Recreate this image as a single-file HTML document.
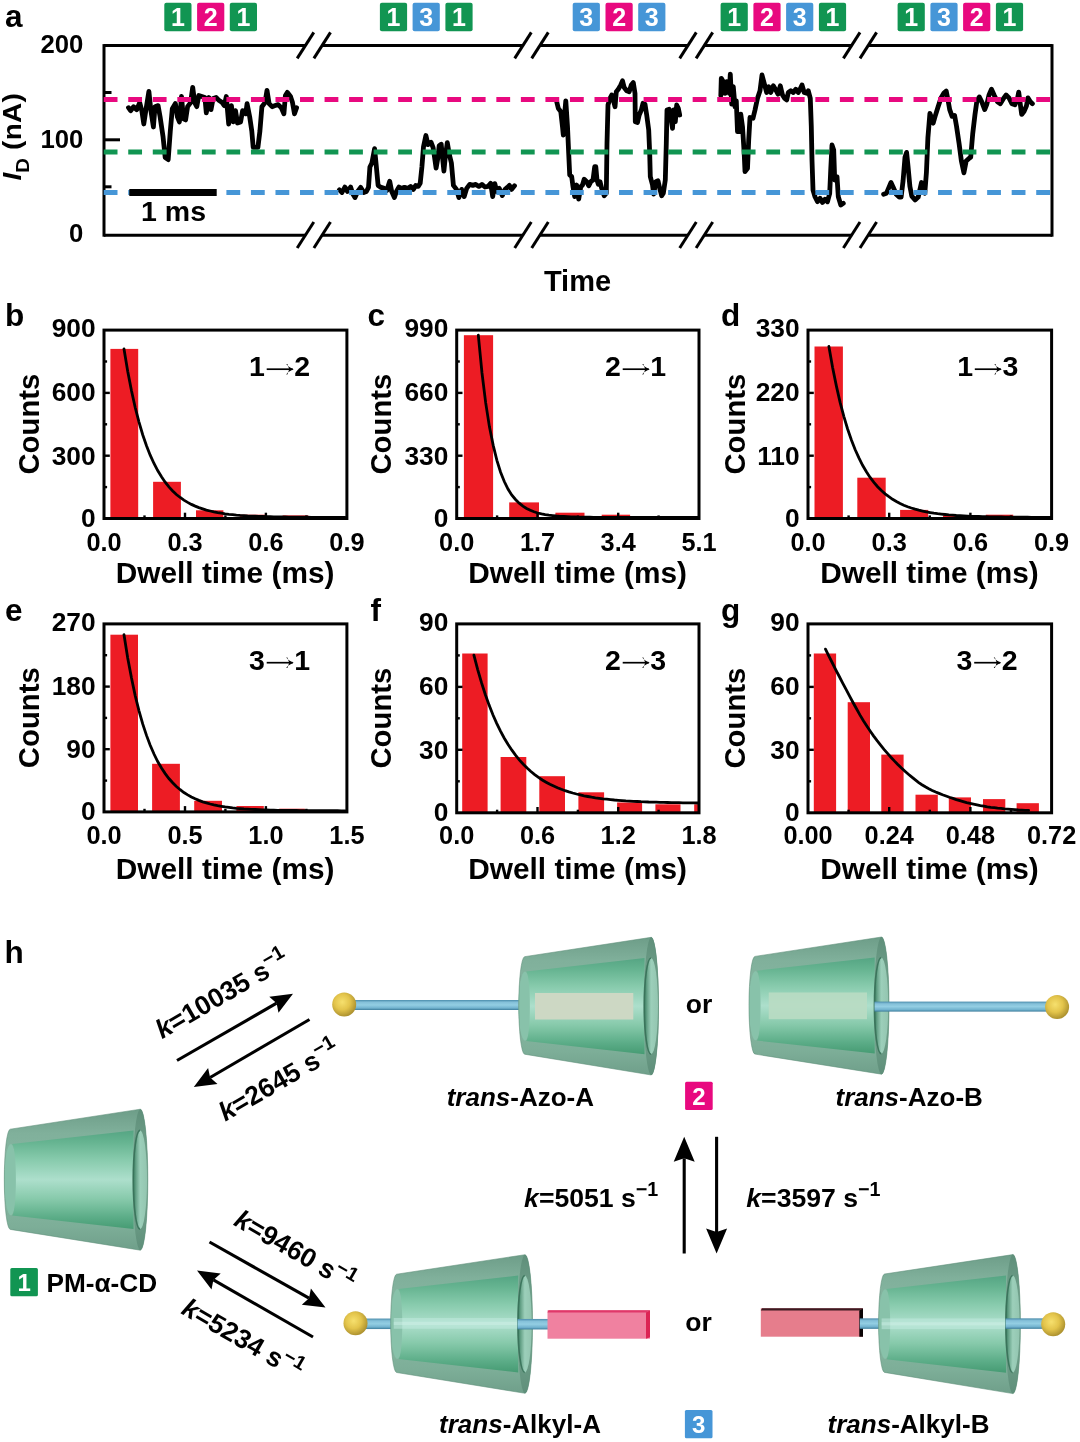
<!DOCTYPE html>
<html lang="en"><head><meta charset="utf-8"><title>Figure</title>
<style>
html,body{margin:0;padding:0;background:#fff;}
body{width:1080px;height:1442px;overflow:hidden;font-family:"Liberation Sans",sans-serif;}
svg{display:block;filter:blur(0.45px);}
svg text{font-family:"Liberation Sans",sans-serif;}
</style></head><body>
<svg width="1080" height="1442" viewBox="0 0 1080 1442">
<rect width="1080" height="1442" fill="#fff"/>
<g id="panel-a">
<line x1="104" y1="45.6" x2="305.5" y2="45.6" stroke="#000" stroke-width="3"/>
<line x1="322.2" y1="45.6" x2="523" y2="45.6" stroke="#000" stroke-width="3"/>
<line x1="540" y1="45.6" x2="688" y2="45.6" stroke="#000" stroke-width="3"/>
<line x1="704.4" y1="45.6" x2="851.7" y2="45.6" stroke="#000" stroke-width="3"/>
<line x1="868.3" y1="45.6" x2="1052" y2="45.6" stroke="#000" stroke-width="3"/>
<line x1="297.2" y1="58.400000000000006" x2="313.8" y2="32.400000000000006" stroke="#000" stroke-width="3"/>
<line x1="313.9" y1="58.400000000000006" x2="330.5" y2="32.400000000000006" stroke="#000" stroke-width="3"/>
<line x1="514.7" y1="58.400000000000006" x2="531.3" y2="32.400000000000006" stroke="#000" stroke-width="3"/>
<line x1="531.7" y1="58.400000000000006" x2="548.3" y2="32.400000000000006" stroke="#000" stroke-width="3"/>
<line x1="679.7" y1="58.400000000000006" x2="696.3" y2="32.400000000000006" stroke="#000" stroke-width="3"/>
<line x1="696.1" y1="58.400000000000006" x2="712.6999999999999" y2="32.400000000000006" stroke="#000" stroke-width="3"/>
<line x1="843.4000000000001" y1="58.400000000000006" x2="860.0" y2="32.400000000000006" stroke="#000" stroke-width="3"/>
<line x1="860.0" y1="58.400000000000006" x2="876.5999999999999" y2="32.400000000000006" stroke="#000" stroke-width="3"/>
<line x1="104" y1="235.2" x2="305.5" y2="235.2" stroke="#000" stroke-width="3"/>
<line x1="322.2" y1="235.2" x2="523" y2="235.2" stroke="#000" stroke-width="3"/>
<line x1="540" y1="235.2" x2="688" y2="235.2" stroke="#000" stroke-width="3"/>
<line x1="704.4" y1="235.2" x2="851.7" y2="235.2" stroke="#000" stroke-width="3"/>
<line x1="868.3" y1="235.2" x2="1052" y2="235.2" stroke="#000" stroke-width="3"/>
<line x1="297.2" y1="248.0" x2="313.8" y2="222.0" stroke="#000" stroke-width="3"/>
<line x1="313.9" y1="248.0" x2="330.5" y2="222.0" stroke="#000" stroke-width="3"/>
<line x1="514.7" y1="248.0" x2="531.3" y2="222.0" stroke="#000" stroke-width="3"/>
<line x1="531.7" y1="248.0" x2="548.3" y2="222.0" stroke="#000" stroke-width="3"/>
<line x1="679.7" y1="248.0" x2="696.3" y2="222.0" stroke="#000" stroke-width="3"/>
<line x1="696.1" y1="248.0" x2="712.6999999999999" y2="222.0" stroke="#000" stroke-width="3"/>
<line x1="843.4000000000001" y1="248.0" x2="860.0" y2="222.0" stroke="#000" stroke-width="3"/>
<line x1="860.0" y1="248.0" x2="876.5999999999999" y2="222.0" stroke="#000" stroke-width="3"/>
<line x1="104" y1="44.1" x2="104" y2="236.7" stroke="#000" stroke-width="3"/>
<line x1="1052" y1="44.1" x2="1052" y2="236.7" stroke="#000" stroke-width="3"/>
<line x1="104" y1="139.8" x2="120" y2="139.8" stroke="#000" stroke-width="3"/>
<line x1="104" y1="92.5" x2="111.5" y2="92.5" stroke="#000" stroke-width="3"/>
<line x1="104" y1="186.8" x2="111.5" y2="186.8" stroke="#000" stroke-width="3"/>
<path d="M128.5,107.7 L130.6,110.7 L133.6,106.7 L136.7,109.7 L139.7,102.6 L141.8,110.7 L143.8,124.0 L145.8,110.7 L148.9,91.4 L150.9,110.7 L153.4,127.0 L155.0,106.7 L158.1,105.6 L160.1,116.9 L163.1,137.2 L165.2,157.6 L168.2,159.6 L170.3,131.1 L172.3,108.7 L175.4,103.6 L177.4,116.9 L179.4,121.9 L181.5,96.5 L183.5,118.9 L185.6,119.9 L187.6,106.7 L190.6,102.6 L192.7,87.3 L194.7,102.6 L196.8,106.7 L198.8,95.5 L201.9,96.5 L204.9,97.5 L206.3,112.8 L209.0,97.5 L211.0,109.7 L213.1,98.5 L216.1,97.5 L219.2,100.6 L222.2,102.6 L224.3,105.6 L226.3,96.5 L228.7,124.0 L231.4,105.6 L233.4,121.9 L235.5,110.7 L237.5,123.0 L240.6,121.9 L242.6,110.7 L245.7,113.8 L247.1,103.6 L249.7,116.9 L251.8,131.1 L253.2,147.4 L257.9,147.4 L259.9,131.1 L261.9,106.7 L265.0,102.6 L267.0,90.4 L269.1,103.6 L272.1,106.7 L275.2,105.6 L278.2,104.6 L281.3,107.7 L283.9,113.8 L285.4,95.5 L287.4,92.4 L290.5,96.5 L292.5,102.6 L294.5,113.8 L296.6,107.7" fill="none" stroke="#000" stroke-width="4.8" stroke-linejoin="round" stroke-linecap="round"/>
<path d="M339.4,189.9 L342.0,192.5 L344.9,187.0 L347.5,191.5 L350.6,187.0 L352.6,193.5 L355.0,197.6 L357.7,191.5 L360.7,187.4 L363.8,192.5 L366.4,191.5 L368.5,187.4 L369.9,167.0 L371.9,163.0 L374.6,148.7 L376.0,163.0 L378.1,185.4 L381.1,187.4 L384.2,188.4 L386.8,190.5 L389.7,181.3 L391.7,191.5 L394.4,197.6 L396.4,191.5 L399.0,187.0 L401.5,188.4 L404.5,187.4 L407.6,188.4 L410.6,186.4 L413.3,189.4 L415.7,185.4 L418.2,186.4 L420.2,183.3 L421.9,167.0 L423.5,146.7 L425.9,135.5 L428.0,144.6 L431.0,142.2 L433.1,147.7 L434.5,156.9 L436.1,168.1 L437.7,158.9 L439.2,145.6 L441.2,144.2 L443.9,171.1 L445.3,156.9 L447.3,142.6 L449.4,154.8 L451.4,163.0 L453.4,185.4 L456.5,189.4 L458.9,197.6 L461.6,189.4 L464.2,196.6 L466.7,188.4 L469.7,184.4 L472.8,185.4 L475.8,184.4 L478.9,186.4 L481.9,184.4 L485.0,187.0 L488.1,186.4 L490.7,183.3 L492.7,196.6 L494.8,183.7 L496.8,191.5 L499.3,188.4 L502.3,195.6 L505.0,189.4 L507.4,187.4 L509.4,185.4 L511.5,189.4 L514.5,185.8" fill="none" stroke="#000" stroke-width="4.8" stroke-linejoin="round" stroke-linecap="round"/>
<path d="M556.7,101.7 L558.3,108.3 L560.8,111.7 L562.5,126.7 L563.3,135.0 L565.0,110.0 L565.8,100.8 L567.5,126.7 L568.7,153.3 L569.7,175.0 L571.7,176.7 L573.0,186.7 L574.7,196.7 L576.7,185.0 L578.7,199.2 L580.8,186.7 L582.5,185.0 L584.2,179.2 L586.7,181.7 L588.7,185.8 L590.8,181.7 L593.0,180.0 L594.7,166.7 L595.8,166.7 L597.0,180.0 L598.3,184.2 L600.0,181.7 L601.7,188.3 L604.2,195.8 L606.3,193.3 L607.0,143.3 L608.0,105.0 L610.0,98.3 L611.7,95.0 L613.3,100.0 L615.0,106.7 L616.3,91.7 L618.3,89.2 L620.8,85.0 L622.5,80.8 L624.2,87.5 L626.7,90.8 L629.2,91.7 L631.3,85.0 L633.3,82.5 L635.0,93.3 L635.3,121.7 L637.5,122.5 L639.2,115.0 L641.3,110.0 L643.0,103.3 L645.0,104.2 L646.7,115.0 L648.7,130.0 L649.7,153.3 L650.3,176.7 L652.5,185.0 L653.7,194.2 L655.8,181.7 L658.0,180.8 L659.7,188.3 L661.7,195.8 L663.3,193.3 L665.3,180.0 L666.3,143.3 L667.0,110.0 L669.2,109.2 L670.8,116.7 L672.5,128.3 L673.7,110.0 L675.3,121.7 L676.7,105.0 L678.3,108.3 L679.7,115.0" fill="none" stroke="#000" stroke-width="4.8" stroke-linejoin="round" stroke-linecap="round"/>
<path d="M720.8,95.8 L721.3,78.3 L723.3,81.7 L725.0,93.3 L726.7,81.7 L729.2,93.3 L730.3,74.2 L731.7,104.2 L733.3,86.7 L735.0,106.7 L736.3,100.8 L737.5,131.7 L739.2,131.7 L740.8,114.2 L742.5,126.7 L744.2,153.3 L745.0,171.7 L747.5,168.3 L748.7,140.0 L750.0,117.5 L753.0,118.3 L755.0,110.0 L757.5,98.3 L760.0,90.8 L762.0,75.0 L764.2,83.3 L766.7,92.5 L768.7,86.7 L770.8,92.5 L773.3,85.8 L775.8,90.0 L778.0,94.2 L780.3,85.8 L782.5,95.0 L784.7,98.3 L786.7,100.0 L788.3,92.5 L790.8,90.8 L793.3,92.5 L795.8,89.2 L798.3,92.5 L800.0,89.2 L802.0,85.0 L804.2,92.5 L806.7,93.3 L808.3,90.8 L810.3,98.3 L811.3,126.7 L812.0,160.0 L813.0,190.0 L815.0,196.7 L817.5,201.7 L820.0,198.3 L822.5,202.5 L825.0,199.2 L827.5,201.7 L829.7,193.3 L830.8,168.3 L832.0,145.0 L833.7,150.0 L834.7,180.0 L837.0,176.7 L838.3,196.7 L840.8,205.0 L843.3,203.3" fill="none" stroke="#000" stroke-width="4.8" stroke-linejoin="round" stroke-linecap="round"/>
<path d="M883.6,194.2 L886.5,193.2 L888.5,188.3 L891.0,182.5 L893.3,187.4 L896.2,194.2 L899.2,197.1 L901.1,197.1 L903.1,180.6 L905.0,157.2 L906.6,152.4 L907.9,165.0 L909.9,186.4 L911.8,196.1 L915.1,200.0 L918.2,197.1 L920.2,188.3 L921.5,182.5 L922.9,188.3 L924.8,193.2 L926.4,172.8 L927.9,137.8 L929.9,113.5 L931.8,118.3 L933.2,123.2 L935.1,116.4 L938.1,106.7 L941.0,97.9 L943.9,93.1 L946.2,91.1 L947.8,98.9 L949.7,109.6 L952.1,116.4 L954.6,115.4 L956.5,126.1 L959.1,143.6 L961.4,161.1 L963.9,172.8 L966.2,161.1 L969.2,158.2 L970.7,157.2 L972.7,133.9 L975.0,114.4 L976.9,100.8 L979.3,96.9 L981.8,101.8 L984.7,109.6 L986.7,104.7 L989.0,95.0 L991.5,89.2 L994.1,95.0 L997.4,101.8 L1000.3,103.7 L1003.2,98.9 L1006.1,95.0 L1009.0,97.9 L1011.9,103.7 L1014.9,104.7 L1017.4,98.9 L1018.7,92.1 L1020.1,102.8 L1021.7,114.4 L1024.0,111.5 L1026.5,105.7 L1027.9,97.9 L1030.4,101.8 L1032.4,103.7" fill="none" stroke="#000" stroke-width="4.8" stroke-linejoin="round" stroke-linecap="round"/>
<line x1="103.7" y1="99.5" x2="1051" y2="99.5" stroke="#e8097f" stroke-width="5" stroke-dasharray="13.8 10.74"/>
<line x1="103.7" y1="152.1" x2="1051" y2="152.1" stroke="#119552" stroke-width="5" stroke-dasharray="13.8 10.74"/>
<line x1="103.7" y1="192.5" x2="1051" y2="192.5" stroke="#4696d7" stroke-width="5" stroke-dasharray="13.8 10.74"/>
<rect x="129.3" y="189" width="87.4" height="7" fill="#000"/>
<text x="173.5" y="220.7" text-anchor="middle" font-family="Liberation Sans, sans-serif" font-weight="bold" font-size="28.5">1 ms</text>
<text x="83.3" y="52.9" text-anchor="end" font-family="Liberation Sans, sans-serif" font-weight="bold" font-size="25.7">200</text>
<text x="83.3" y="147.9" text-anchor="end" font-family="Liberation Sans, sans-serif" font-weight="bold" font-size="25.7">100</text>
<text x="83.3" y="242.3" text-anchor="end" font-family="Liberation Sans, sans-serif" font-weight="bold" font-size="25.7">0</text>
<text transform="translate(20.8,180.6) rotate(-90) scale(1.075,1)" font-family="Liberation Sans, sans-serif" font-weight="bold" font-size="26"><tspan font-style="italic">I</tspan><tspan font-size="19" dy="7.8">D</tspan><tspan dy="-7.8" letter-spacing="0.3"> (nA)</tspan></text>
<text x="577.5" y="291" text-anchor="middle" font-family="Liberation Sans, sans-serif" font-weight="bold" font-size="29">Time</text>
<text x="5.1" y="26.8" font-family="Liberation Sans, sans-serif" font-weight="bold" font-size="31.5">a</text>
<rect x="164.3" y="2.7" width="27.2" height="28.5" rx="2" fill="#119552"/><text x="177.9" y="25.9" text-anchor="middle" font-family="Liberation Sans, sans-serif" font-weight="bold" font-size="25" fill="#fff">1</text>
<rect x="197.1" y="2.7" width="27.2" height="28.5" rx="2" fill="#e8097f"/><text x="210.7" y="25.9" text-anchor="middle" font-family="Liberation Sans, sans-serif" font-weight="bold" font-size="25" fill="#fff">2</text>
<rect x="229.8" y="2.7" width="27.2" height="28.5" rx="2" fill="#119552"/><text x="243.4" y="25.9" text-anchor="middle" font-family="Liberation Sans, sans-serif" font-weight="bold" font-size="25" fill="#fff">1</text>
<rect x="379.9" y="2.7" width="27.2" height="28.5" rx="2" fill="#119552"/><text x="393.5" y="25.9" text-anchor="middle" font-family="Liberation Sans, sans-serif" font-weight="bold" font-size="25" fill="#fff">1</text>
<rect x="412.6" y="2.7" width="27.2" height="28.5" rx="2" fill="#4696d7"/><text x="426.2" y="25.9" text-anchor="middle" font-family="Liberation Sans, sans-serif" font-weight="bold" font-size="25" fill="#fff">3</text>
<rect x="445.4" y="2.7" width="27.2" height="28.5" rx="2" fill="#119552"/><text x="459.0" y="25.9" text-anchor="middle" font-family="Liberation Sans, sans-serif" font-weight="bold" font-size="25" fill="#fff">1</text>
<rect x="572.7" y="2.7" width="27.2" height="28.5" rx="2" fill="#4696d7"/><text x="586.3" y="25.9" text-anchor="middle" font-family="Liberation Sans, sans-serif" font-weight="bold" font-size="25" fill="#fff">3</text>
<rect x="605.5" y="2.7" width="27.2" height="28.5" rx="2" fill="#e8097f"/><text x="619.1" y="25.9" text-anchor="middle" font-family="Liberation Sans, sans-serif" font-weight="bold" font-size="25" fill="#fff">2</text>
<rect x="638.2" y="2.7" width="27.2" height="28.5" rx="2" fill="#4696d7"/><text x="651.8" y="25.9" text-anchor="middle" font-family="Liberation Sans, sans-serif" font-weight="bold" font-size="25" fill="#fff">3</text>
<rect x="720.6" y="2.7" width="27.2" height="28.5" rx="2" fill="#119552"/><text x="734.2" y="25.9" text-anchor="middle" font-family="Liberation Sans, sans-serif" font-weight="bold" font-size="25" fill="#fff">1</text>
<rect x="753.4" y="2.7" width="27.2" height="28.5" rx="2" fill="#e8097f"/><text x="767.0" y="25.9" text-anchor="middle" font-family="Liberation Sans, sans-serif" font-weight="bold" font-size="25" fill="#fff">2</text>
<rect x="786.1" y="2.7" width="27.2" height="28.5" rx="2" fill="#4696d7"/><text x="799.7" y="25.9" text-anchor="middle" font-family="Liberation Sans, sans-serif" font-weight="bold" font-size="25" fill="#fff">3</text>
<rect x="818.9" y="2.7" width="27.2" height="28.5" rx="2" fill="#119552"/><text x="832.5" y="25.9" text-anchor="middle" font-family="Liberation Sans, sans-serif" font-weight="bold" font-size="25" fill="#fff">1</text>
<rect x="897.6" y="2.7" width="27.2" height="28.5" rx="2" fill="#119552"/><text x="911.2" y="25.9" text-anchor="middle" font-family="Liberation Sans, sans-serif" font-weight="bold" font-size="25" fill="#fff">1</text>
<rect x="930.4" y="2.7" width="27.2" height="28.5" rx="2" fill="#4696d7"/><text x="944.0" y="25.9" text-anchor="middle" font-family="Liberation Sans, sans-serif" font-weight="bold" font-size="25" fill="#fff">3</text>
<rect x="963.1" y="2.7" width="27.2" height="28.5" rx="2" fill="#e8097f"/><text x="976.7" y="25.9" text-anchor="middle" font-family="Liberation Sans, sans-serif" font-weight="bold" font-size="25" fill="#fff">2</text>
<rect x="995.9" y="2.7" width="27.2" height="28.5" rx="2" fill="#119552"/><text x="1009.5" y="25.9" text-anchor="middle" font-family="Liberation Sans, sans-serif" font-weight="bold" font-size="25" fill="#fff">1</text>
</g>
<g id="hists">
<rect x="110.4" y="348.9" width="27.8" height="169.6" fill="#ed1c24"/>
<rect x="153.1" y="481.8" width="27.8" height="36.7" fill="#ed1c24"/>
<rect x="196" y="510.3" width="27.4" height="8.2" fill="#ed1c24"/>
<rect x="239.8" y="514.7" width="25.7" height="3.8" fill="#ed1c24"/>
<rect x="282.6" y="515.4" width="25.7" height="3.1" fill="#ed1c24"/>
<path d="M124.0,348.9 L127.7,371.3 L131.5,390.7 L135.2,407.5 L139.0,422.1 L142.7,434.7 L146.5,445.7 L150.2,455.2 L154.0,463.5 L157.7,470.6 L161.5,476.8 L165.2,482.2 L168.9,486.9 L172.7,490.9 L176.4,494.5 L180.2,497.5 L183.9,500.1 L187.7,502.4 L191.4,504.4 L195.2,506.1 L198.9,507.6 L202.7,508.9 L206.4,510.1 L210.2,511.0 L213.9,511.9 L217.6,512.6 L221.4,513.2 L225.1,513.8 L228.9,514.3 L232.6,514.7 L236.4,515.1 L240.1,515.4 L243.9,515.6 L247.6,515.9 L251.4,516.1 L255.1,516.2 L258.8,516.4 L262.6,516.5 L266.3,516.6 L270.1,516.7 L273.8,516.8 L277.6,516.9 L281.3,517.0 L285.1,517.0 L288.8,517.1 L292.6,517.1 L296.3,517.2 L300.1,517.2 L303.8,517.2 L307.5,517.2 L311.3,517.3 L315.0,517.3 L318.8,517.3 L322.5,517.3 L326.3,517.3 L330.0,517.3 L333.8,517.3 L337.5,517.3 L341.3,517.4 L345.0,517.4" fill="none" stroke="#000" stroke-width="2.8" stroke-linecap="round"/>
<line x1="104" y1="361.5" x2="107.1" y2="361.5" stroke="#000" stroke-width="2.4"/>
<line x1="104" y1="392.9" x2="109.8" y2="392.9" stroke="#000" stroke-width="2.4"/>
<line x1="104" y1="424.3" x2="107.1" y2="424.3" stroke="#000" stroke-width="2.4"/>
<line x1="104" y1="455.7" x2="109.8" y2="455.7" stroke="#000" stroke-width="2.4"/>
<line x1="104" y1="487.1" x2="107.1" y2="487.1" stroke="#000" stroke-width="2.4"/>
<line x1="144.5" y1="518.5" x2="144.5" y2="515.4" stroke="#000" stroke-width="2.4"/>
<line x1="185.0" y1="518.5" x2="185.0" y2="512.7" stroke="#000" stroke-width="2.4"/>
<line x1="225.4" y1="518.5" x2="225.4" y2="515.4" stroke="#000" stroke-width="2.4"/>
<line x1="265.9" y1="518.5" x2="265.9" y2="512.7" stroke="#000" stroke-width="2.4"/>
<line x1="306.4" y1="518.5" x2="306.4" y2="515.4" stroke="#000" stroke-width="2.4"/>
<rect x="104" y="330.1" width="242.9" height="188.4" fill="none" stroke="#000" stroke-width="3"/>
<text x="95.6" y="337.2" text-anchor="end" font-family="Liberation Sans, sans-serif" font-weight="bold" font-size="26.3">900</text>
<text x="95.6" y="401.1" text-anchor="end" font-family="Liberation Sans, sans-serif" font-weight="bold" font-size="26.3">600</text>
<text x="95.6" y="464.5" text-anchor="end" font-family="Liberation Sans, sans-serif" font-weight="bold" font-size="26.3">300</text>
<text x="95.6" y="526.7" text-anchor="end" font-family="Liberation Sans, sans-serif" font-weight="bold" font-size="26.3">0</text>
<text x="104.0" y="550.7" text-anchor="middle" font-family="Liberation Sans, sans-serif" font-weight="bold" font-size="25.3">0.0</text>
<text x="185.0" y="550.7" text-anchor="middle" font-family="Liberation Sans, sans-serif" font-weight="bold" font-size="25.3">0.3</text>
<text x="265.9" y="550.7" text-anchor="middle" font-family="Liberation Sans, sans-serif" font-weight="bold" font-size="25.3">0.6</text>
<text x="346.9" y="550.7" text-anchor="middle" font-family="Liberation Sans, sans-serif" font-weight="bold" font-size="25.3">0.9</text>
<text x="225.1" y="583.2" text-anchor="middle" font-family="Liberation Sans, sans-serif" font-weight="bold" font-size="29.8">Dwell time (ms)</text>
<text transform="translate(38.6,424.1) rotate(-90)" text-anchor="middle" font-family="Liberation Sans, sans-serif" font-weight="bold" font-size="29.3">Counts</text>
<text x="249.1" y="376.4" font-family="Liberation Sans, sans-serif" font-weight="bold" font-size="28.5">1</text>
<text x="294.3" y="376.4" font-family="Liberation Sans, sans-serif" font-weight="bold" font-size="28.5">2</text>
<path d="M266.7,369.2 L292.7,369.2" stroke="#000" stroke-width="1.7" fill="none"/>
<path d="M293.7,369.2 C290.7,368.2 287.7,366.2 286.2,364.0 L287.4,364.0 L289.2,369.2 L287.4,374.4 L286.2,374.4 C287.7,372.2 290.7,370.2 293.7,369.2 Z" fill="#000"/>
<text x="5.1" y="326.1" font-family="Liberation Sans, sans-serif" font-weight="bold" font-size="31.5">b</text>
<rect x="463.9" y="335.2" width="29.2" height="183.3" fill="#ed1c24"/>
<rect x="509.2" y="502.4" width="29.8" height="16.1" fill="#ed1c24"/>
<rect x="555.4" y="512.7" width="29.1" height="5.8" fill="#ed1c24"/>
<rect x="601.7" y="514.7" width="28.4" height="3.8" fill="#ed1c24"/>
<path d="M478.3,335.2 L482.0,373.0 L485.7,402.9 L489.4,426.6 L493.2,445.4 L496.9,460.3 L500.6,472.2 L504.3,481.5 L508.0,489.0 L511.7,494.9 L515.5,499.5 L519.2,503.2 L522.9,506.2 L526.6,508.5 L530.3,510.3 L534.0,511.8 L537.7,513.0 L541.5,513.9 L545.2,514.6 L548.9,515.2 L552.6,515.6 L556.3,516.0 L560.0,516.3 L563.8,516.5 L567.5,516.7 L571.2,516.9 L574.9,517.0 L578.6,517.1 L582.3,517.1 L586.0,517.2 L589.8,517.2 L593.5,517.3 L597.2,517.3 L600.9,517.3 L604.6,517.3 L608.3,517.3 L612.0,517.4 L615.8,517.4 L619.5,517.4 L623.2,517.4 L626.9,517.4 L630.6,517.4 L634.3,517.4 L638.1,517.4 L641.8,517.4 L645.5,517.4 L649.2,517.4 L652.9,517.4 L656.6,517.4 L660.3,517.4 L664.1,517.4 L667.8,517.4 L671.5,517.4 L675.2,517.4 L678.9,517.4 L682.6,517.4 L686.4,517.4 L690.1,517.4 L693.8,517.4 L697.5,517.4" fill="none" stroke="#000" stroke-width="2.8" stroke-linecap="round"/>
<line x1="456.7" y1="361.5" x2="459.8" y2="361.5" stroke="#000" stroke-width="2.4"/>
<line x1="456.7" y1="392.9" x2="462.5" y2="392.9" stroke="#000" stroke-width="2.4"/>
<line x1="456.7" y1="424.3" x2="459.8" y2="424.3" stroke="#000" stroke-width="2.4"/>
<line x1="456.7" y1="455.7" x2="462.5" y2="455.7" stroke="#000" stroke-width="2.4"/>
<line x1="456.7" y1="487.1" x2="459.8" y2="487.1" stroke="#000" stroke-width="2.4"/>
<line x1="497.1" y1="518.5" x2="497.1" y2="515.4" stroke="#000" stroke-width="2.4"/>
<line x1="537.5" y1="518.5" x2="537.5" y2="512.7" stroke="#000" stroke-width="2.4"/>
<line x1="577.9" y1="518.5" x2="577.9" y2="515.4" stroke="#000" stroke-width="2.4"/>
<line x1="618.2" y1="518.5" x2="618.2" y2="512.7" stroke="#000" stroke-width="2.4"/>
<line x1="658.6" y1="518.5" x2="658.6" y2="515.4" stroke="#000" stroke-width="2.4"/>
<rect x="456.7" y="330.1" width="242.3" height="188.4" fill="none" stroke="#000" stroke-width="3"/>
<text x="448.3" y="337.2" text-anchor="end" font-family="Liberation Sans, sans-serif" font-weight="bold" font-size="26.3">990</text>
<text x="448.3" y="401.1" text-anchor="end" font-family="Liberation Sans, sans-serif" font-weight="bold" font-size="26.3">660</text>
<text x="448.3" y="464.5" text-anchor="end" font-family="Liberation Sans, sans-serif" font-weight="bold" font-size="26.3">330</text>
<text x="448.3" y="526.7" text-anchor="end" font-family="Liberation Sans, sans-serif" font-weight="bold" font-size="26.3">0</text>
<text x="456.7" y="550.7" text-anchor="middle" font-family="Liberation Sans, sans-serif" font-weight="bold" font-size="25.3">0.0</text>
<text x="537.5" y="550.7" text-anchor="middle" font-family="Liberation Sans, sans-serif" font-weight="bold" font-size="25.3">1.7</text>
<text x="618.2" y="550.7" text-anchor="middle" font-family="Liberation Sans, sans-serif" font-weight="bold" font-size="25.3">3.4</text>
<text x="699.0" y="550.7" text-anchor="middle" font-family="Liberation Sans, sans-serif" font-weight="bold" font-size="25.3">5.1</text>
<text x="577.6" y="583.2" text-anchor="middle" font-family="Liberation Sans, sans-serif" font-weight="bold" font-size="29.8">Dwell time (ms)</text>
<text transform="translate(391.3,424.1) rotate(-90)" text-anchor="middle" font-family="Liberation Sans, sans-serif" font-weight="bold" font-size="29.3">Counts</text>
<text x="605.1" y="376.4" font-family="Liberation Sans, sans-serif" font-weight="bold" font-size="28.5">2</text>
<text x="650.3000000000001" y="376.4" font-family="Liberation Sans, sans-serif" font-weight="bold" font-size="28.5">1</text>
<path d="M622.7,369.2 L648.7,369.2" stroke="#000" stroke-width="1.7" fill="none"/>
<path d="M649.7,369.2 C646.7,368.2 643.7,366.2 642.2,364.0 L643.4,364.0 L645.2,369.2 L643.4,374.4 L642.2,374.4 C643.7,372.2 646.7,370.2 649.7,369.2 Z" fill="#000"/>
<text x="367.6" y="326.1" font-family="Liberation Sans, sans-serif" font-weight="bold" font-size="31.5">c</text>
<rect x="814.5" y="346.5" width="28.4" height="172.0" fill="#ed1c24"/>
<rect x="857.3" y="477.7" width="28.4" height="40.8" fill="#ed1c24"/>
<rect x="900.1" y="509.9" width="28.1" height="8.6" fill="#ed1c24"/>
<rect x="943" y="515.4" width="27.4" height="3.1" fill="#ed1c24"/>
<rect x="985.8" y="514.7" width="27.4" height="3.8" fill="#ed1c24"/>
<path d="M828.9,346.5 L832.6,367.6 L836.4,386.1 L840.1,402.4 L843.9,416.6 L847.6,429.0 L851.4,440.0 L855.1,449.5 L858.9,457.9 L862.6,465.3 L866.4,471.7 L870.1,477.4 L873.9,482.3 L877.6,486.7 L881.4,490.5 L885.1,493.8 L888.9,496.7 L892.6,499.3 L896.4,501.5 L900.1,503.5 L903.8,505.2 L907.6,506.7 L911.3,508.0 L915.1,509.2 L918.8,510.2 L922.6,511.1 L926.3,511.9 L930.1,512.6 L933.8,513.2 L937.6,513.7 L941.3,514.1 L945.1,514.5 L948.8,514.9 L952.6,515.2 L956.3,515.5 L960.1,515.7 L963.8,515.9 L967.6,516.1 L971.3,516.3 L975.1,516.4 L978.8,516.5 L982.5,516.6 L986.3,516.7 L990.0,516.8 L993.8,516.9 L997.5,516.9 L1001.3,517.0 L1005.0,517.1 L1008.8,517.1 L1012.5,517.1 L1016.3,517.2 L1020.0,517.2 L1023.8,517.2 L1027.5,517.2 L1031.3,517.3 L1035.0,517.3 L1038.8,517.3 L1042.5,517.3 L1046.3,517.3 L1050.0,517.3" fill="none" stroke="#000" stroke-width="2.8" stroke-linecap="round"/>
<line x1="808" y1="361.5" x2="811.1" y2="361.5" stroke="#000" stroke-width="2.4"/>
<line x1="808" y1="392.9" x2="813.8" y2="392.9" stroke="#000" stroke-width="2.4"/>
<line x1="808" y1="424.3" x2="811.1" y2="424.3" stroke="#000" stroke-width="2.4"/>
<line x1="808" y1="455.7" x2="813.8" y2="455.7" stroke="#000" stroke-width="2.4"/>
<line x1="808" y1="487.1" x2="811.1" y2="487.1" stroke="#000" stroke-width="2.4"/>
<line x1="848.6" y1="518.5" x2="848.6" y2="515.4" stroke="#000" stroke-width="2.4"/>
<line x1="889.2" y1="518.5" x2="889.2" y2="512.7" stroke="#000" stroke-width="2.4"/>
<line x1="929.8" y1="518.5" x2="929.8" y2="515.4" stroke="#000" stroke-width="2.4"/>
<line x1="970.4" y1="518.5" x2="970.4" y2="512.7" stroke="#000" stroke-width="2.4"/>
<line x1="1011.0" y1="518.5" x2="1011.0" y2="515.4" stroke="#000" stroke-width="2.4"/>
<rect x="808" y="330.1" width="243.6" height="188.4" fill="none" stroke="#000" stroke-width="3"/>
<text x="799.6" y="337.2" text-anchor="end" font-family="Liberation Sans, sans-serif" font-weight="bold" font-size="26.3">330</text>
<text x="799.6" y="401.1" text-anchor="end" font-family="Liberation Sans, sans-serif" font-weight="bold" font-size="26.3">220</text>
<text x="799.6" y="464.5" text-anchor="end" font-family="Liberation Sans, sans-serif" font-weight="bold" font-size="26.3">110</text>
<text x="799.6" y="526.7" text-anchor="end" font-family="Liberation Sans, sans-serif" font-weight="bold" font-size="26.3">0</text>
<text x="808.0" y="550.7" text-anchor="middle" font-family="Liberation Sans, sans-serif" font-weight="bold" font-size="25.3">0.0</text>
<text x="889.2" y="550.7" text-anchor="middle" font-family="Liberation Sans, sans-serif" font-weight="bold" font-size="25.3">0.3</text>
<text x="970.4" y="550.7" text-anchor="middle" font-family="Liberation Sans, sans-serif" font-weight="bold" font-size="25.3">0.6</text>
<text x="1051.6" y="550.7" text-anchor="middle" font-family="Liberation Sans, sans-serif" font-weight="bold" font-size="25.3">0.9</text>
<text x="929.5" y="583.2" text-anchor="middle" font-family="Liberation Sans, sans-serif" font-weight="bold" font-size="29.8">Dwell time (ms)</text>
<text transform="translate(744.5,424.1) rotate(-90)" text-anchor="middle" font-family="Liberation Sans, sans-serif" font-weight="bold" font-size="29.3">Counts</text>
<text x="957.2" y="376.4" font-family="Liberation Sans, sans-serif" font-weight="bold" font-size="28.5">1</text>
<text x="1002.4000000000001" y="376.4" font-family="Liberation Sans, sans-serif" font-weight="bold" font-size="28.5">3</text>
<path d="M974.8,369.2 L1000.8,369.2" stroke="#000" stroke-width="1.7" fill="none"/>
<path d="M1001.8,369.2 C998.8,368.2 995.8,366.2 994.3,364.0 L995.5,364.0 L997.3,369.2 L995.5,374.4 L994.3,374.4 C995.8,372.2 998.8,370.2 1001.8,369.2 Z" fill="#000"/>
<text x="721.1" y="326.1" font-family="Liberation Sans, sans-serif" font-weight="bold" font-size="31.5">d</text>
<rect x="110.4" y="634.7" width="27.6" height="177.2" fill="#ed1c24"/>
<rect x="152.1" y="763.8" width="27.8" height="48.1" fill="#ed1c24"/>
<rect x="194.2" y="800.8" width="27.8" height="11.1" fill="#ed1c24"/>
<rect x="236.4" y="806" width="27.4" height="5.9" fill="#ed1c24"/>
<rect x="279.2" y="808.7" width="25.7" height="3.2" fill="#ed1c24"/>
<path d="M124.0,634.7 L127.7,657.9 L131.5,678.1 L135.2,695.6 L139.0,710.8 L142.7,723.9 L146.5,735.4 L150.2,745.3 L154.0,754.0 L157.7,761.5 L161.5,768.0 L165.2,773.6 L168.9,778.5 L172.7,782.8 L176.4,786.5 L180.2,789.7 L183.9,792.5 L187.7,794.9 L191.4,797.0 L195.2,798.8 L198.9,800.4 L202.7,801.8 L206.4,802.9 L210.2,804.0 L213.9,804.9 L217.6,805.7 L221.4,806.3 L225.1,806.9 L228.9,807.4 L232.6,807.9 L236.4,808.3 L240.1,808.6 L243.9,808.9 L247.6,809.1 L251.4,809.4 L255.1,809.5 L258.8,809.7 L262.6,809.9 L266.3,810.0 L270.1,810.1 L273.8,810.2 L277.6,810.3 L281.3,810.3 L285.1,810.4 L288.8,810.4 L292.6,810.5 L296.3,810.5 L300.1,810.6 L303.8,810.6 L307.5,810.6 L311.3,810.6 L315.0,810.7 L318.8,810.7 L322.5,810.7 L326.3,810.7 L330.0,810.7 L333.8,810.7 L337.5,810.7 L341.3,810.8 L345.0,810.8" fill="none" stroke="#000" stroke-width="2.8" stroke-linecap="round"/>
<line x1="104" y1="655.2" x2="107.1" y2="655.2" stroke="#000" stroke-width="2.4"/>
<line x1="104" y1="686.6" x2="109.8" y2="686.6" stroke="#000" stroke-width="2.4"/>
<line x1="104" y1="717.9" x2="107.1" y2="717.9" stroke="#000" stroke-width="2.4"/>
<line x1="104" y1="749.2" x2="109.8" y2="749.2" stroke="#000" stroke-width="2.4"/>
<line x1="104" y1="780.6" x2="107.1" y2="780.6" stroke="#000" stroke-width="2.4"/>
<line x1="144.5" y1="811.9" x2="144.5" y2="808.8" stroke="#000" stroke-width="2.4"/>
<line x1="185.0" y1="811.9" x2="185.0" y2="806.1" stroke="#000" stroke-width="2.4"/>
<line x1="225.4" y1="811.9" x2="225.4" y2="808.8" stroke="#000" stroke-width="2.4"/>
<line x1="265.9" y1="811.9" x2="265.9" y2="806.1" stroke="#000" stroke-width="2.4"/>
<line x1="306.4" y1="811.9" x2="306.4" y2="808.8" stroke="#000" stroke-width="2.4"/>
<rect x="104" y="623.9" width="242.9" height="188.0" fill="none" stroke="#000" stroke-width="3"/>
<text x="95.6" y="631.0" text-anchor="end" font-family="Liberation Sans, sans-serif" font-weight="bold" font-size="26.3">270</text>
<text x="95.6" y="694.8" text-anchor="end" font-family="Liberation Sans, sans-serif" font-weight="bold" font-size="26.3">180</text>
<text x="95.6" y="758.0" text-anchor="end" font-family="Liberation Sans, sans-serif" font-weight="bold" font-size="26.3">90</text>
<text x="95.6" y="820.1" text-anchor="end" font-family="Liberation Sans, sans-serif" font-weight="bold" font-size="26.3">0</text>
<text x="104.0" y="843.6" text-anchor="middle" font-family="Liberation Sans, sans-serif" font-weight="bold" font-size="25.3">0.0</text>
<text x="185.0" y="843.6" text-anchor="middle" font-family="Liberation Sans, sans-serif" font-weight="bold" font-size="25.3">0.5</text>
<text x="265.9" y="843.6" text-anchor="middle" font-family="Liberation Sans, sans-serif" font-weight="bold" font-size="25.3">1.0</text>
<text x="346.9" y="843.6" text-anchor="middle" font-family="Liberation Sans, sans-serif" font-weight="bold" font-size="25.3">1.5</text>
<text x="225.1" y="878.9" text-anchor="middle" font-family="Liberation Sans, sans-serif" font-weight="bold" font-size="29.8">Dwell time (ms)</text>
<text transform="translate(38.6,717.7) rotate(-90)" text-anchor="middle" font-family="Liberation Sans, sans-serif" font-weight="bold" font-size="29.3">Counts</text>
<text x="249.1" y="669.9" font-family="Liberation Sans, sans-serif" font-weight="bold" font-size="28.5">3</text>
<text x="294.3" y="669.9" font-family="Liberation Sans, sans-serif" font-weight="bold" font-size="28.5">1</text>
<path d="M266.7,662.7 L292.7,662.7" stroke="#000" stroke-width="1.7" fill="none"/>
<path d="M293.7,662.7 C290.7,661.7 287.7,659.7 286.2,657.5 L287.4,657.5 L289.2,662.7 L287.4,667.9 L286.2,667.9 C287.7,665.7 290.7,663.7 293.7,662.7 Z" fill="#000"/>
<text x="5.1" y="621.1" font-family="Liberation Sans, sans-serif" font-weight="bold" font-size="31.5">e</text>
<rect x="462.2" y="653.5" width="25.4" height="159.3" fill="#ed1c24"/>
<rect x="500.6" y="757" width="25.7" height="55.8" fill="#ed1c24"/>
<rect x="539.3" y="776.2" width="25.7" height="36.6" fill="#ed1c24"/>
<rect x="578.4" y="792.3" width="25.7" height="20.5" fill="#ed1c24"/>
<rect x="617.1" y="802.5" width="25.0" height="10.3" fill="#ed1c24"/>
<rect x="655.4" y="804.3" width="25.1" height="8.5" fill="#ed1c24"/>
<rect x="694.2" y="804.3" width="4.4" height="8.5" fill="#ed1c24"/>
<path d="M473.9,655.2 L477.7,669.6 L481.5,682.7 L485.3,694.5 L489.1,705.1 L492.9,714.7 L496.7,723.3 L500.5,731.1 L504.3,738.2 L508.1,744.5 L511.9,750.2 L515.7,755.4 L519.5,760.1 L523.3,764.3 L527.1,768.1 L530.9,771.5 L534.7,774.6 L538.5,777.4 L542.3,780.0 L546.1,782.2 L549.9,784.3 L553.7,786.1 L557.5,787.8 L561.3,789.3 L565.1,790.7 L568.9,791.9 L572.7,793.0 L576.5,794.0 L580.3,794.9 L584.1,795.8 L587.8,796.5 L591.6,797.2 L595.4,797.8 L599.2,798.3 L603.0,798.8 L606.8,799.2 L610.6,799.6 L614.4,800.0 L618.2,800.3 L622.0,800.6 L625.8,800.9 L629.6,801.1 L633.4,801.3 L637.2,801.5 L641.0,801.7 L644.8,801.8 L648.6,802.0 L652.4,802.1 L656.2,802.2 L660.0,802.3 L663.8,802.4 L667.6,802.5 L671.4,802.6 L675.2,802.7 L679.0,802.7 L682.8,802.8 L686.6,802.8 L690.4,802.9 L694.2,802.9 L698.0,803.0" fill="none" stroke="#000" stroke-width="2.8" stroke-linecap="round"/>
<line x1="456.7" y1="655.4" x2="459.8" y2="655.4" stroke="#000" stroke-width="2.4"/>
<line x1="456.7" y1="686.9" x2="462.5" y2="686.9" stroke="#000" stroke-width="2.4"/>
<line x1="456.7" y1="718.3" x2="459.8" y2="718.3" stroke="#000" stroke-width="2.4"/>
<line x1="456.7" y1="749.8" x2="462.5" y2="749.8" stroke="#000" stroke-width="2.4"/>
<line x1="456.7" y1="781.3" x2="459.8" y2="781.3" stroke="#000" stroke-width="2.4"/>
<line x1="497.1" y1="812.8" x2="497.1" y2="809.6999999999999" stroke="#000" stroke-width="2.4"/>
<line x1="537.5" y1="812.8" x2="537.5" y2="807.0" stroke="#000" stroke-width="2.4"/>
<line x1="577.9" y1="812.8" x2="577.9" y2="809.6999999999999" stroke="#000" stroke-width="2.4"/>
<line x1="618.2" y1="812.8" x2="618.2" y2="807.0" stroke="#000" stroke-width="2.4"/>
<line x1="658.6" y1="812.8" x2="658.6" y2="809.6999999999999" stroke="#000" stroke-width="2.4"/>
<rect x="456.7" y="623.9" width="242.3" height="188.9" fill="none" stroke="#000" stroke-width="3"/>
<text x="448.3" y="631.0" text-anchor="end" font-family="Liberation Sans, sans-serif" font-weight="bold" font-size="26.3">90</text>
<text x="448.3" y="695.1" text-anchor="end" font-family="Liberation Sans, sans-serif" font-weight="bold" font-size="26.3">60</text>
<text x="448.3" y="758.6" text-anchor="end" font-family="Liberation Sans, sans-serif" font-weight="bold" font-size="26.3">30</text>
<text x="448.3" y="821.0" text-anchor="end" font-family="Liberation Sans, sans-serif" font-weight="bold" font-size="26.3">0</text>
<text x="456.7" y="843.6" text-anchor="middle" font-family="Liberation Sans, sans-serif" font-weight="bold" font-size="25.3">0.0</text>
<text x="537.5" y="843.6" text-anchor="middle" font-family="Liberation Sans, sans-serif" font-weight="bold" font-size="25.3">0.6</text>
<text x="618.2" y="843.6" text-anchor="middle" font-family="Liberation Sans, sans-serif" font-weight="bold" font-size="25.3">1.2</text>
<text x="699.0" y="843.6" text-anchor="middle" font-family="Liberation Sans, sans-serif" font-weight="bold" font-size="25.3">1.8</text>
<text x="577.6" y="878.9" text-anchor="middle" font-family="Liberation Sans, sans-serif" font-weight="bold" font-size="29.8">Dwell time (ms)</text>
<text transform="translate(391.3,718.1) rotate(-90)" text-anchor="middle" font-family="Liberation Sans, sans-serif" font-weight="bold" font-size="29.3">Counts</text>
<text x="605.1" y="669.9" font-family="Liberation Sans, sans-serif" font-weight="bold" font-size="28.5">2</text>
<text x="650.3000000000001" y="669.9" font-family="Liberation Sans, sans-serif" font-weight="bold" font-size="28.5">3</text>
<path d="M622.7,662.7 L648.7,662.7" stroke="#000" stroke-width="1.7" fill="none"/>
<path d="M649.7,662.7 C646.7,661.7 643.7,659.7 642.2,657.5 L643.4,657.5 L645.2,662.7 L643.4,667.9 L642.2,667.9 C643.7,665.7 646.7,663.7 649.7,662.7 Z" fill="#000"/>
<text x="370.6" y="621.1" font-family="Liberation Sans, sans-serif" font-weight="bold" font-size="31.5">f</text>
<rect x="813.8" y="653.5" width="22.3" height="159.3" fill="#ed1c24"/>
<rect x="847.7" y="702.2" width="22.3" height="110.6" fill="#ed1c24"/>
<rect x="881.3" y="754.6" width="22.3" height="58.2" fill="#ed1c24"/>
<rect x="915.5" y="794.7" width="22.3" height="18.1" fill="#ed1c24"/>
<rect x="948.8" y="797.4" width="22.2" height="15.4" fill="#ed1c24"/>
<rect x="983" y="799.1" width="22.3" height="13.7" fill="#ed1c24"/>
<rect x="1016.6" y="803.2" width="22.3" height="9.6" fill="#ed1c24"/>
<path d="M825.5,649.1 L828.9,656.1 L832.4,663.0 L835.8,669.8 L839.3,676.5 L842.7,683.1 L846.2,689.6 L849.6,696.1 L853.0,702.5 L856.5,708.8 L859.9,714.9 L863.4,720.7 L866.8,726.0 L870.3,731.2 L873.7,736.1 L877.1,740.7 L880.6,745.1 L884.0,749.3 L887.5,753.3 L890.9,757.2 L894.3,760.9 L897.8,764.5 L901.2,767.8 L904.7,771.0 L908.1,774.0 L911.6,776.9 L915.0,779.7 L918.4,782.4 L921.9,784.7 L925.3,786.8 L928.8,788.7 L932.2,790.4 L935.7,792.0 L939.1,793.4 L942.5,794.8 L946.0,796.0 L949.4,797.3 L952.9,798.4 L956.3,799.6 L959.8,800.6 L963.2,801.6 L966.6,802.6 L970.1,803.4 L973.5,804.1 L977.0,804.9 L980.4,805.6 L983.8,806.2 L987.3,806.8 L990.7,807.3 L994.2,807.7 L997.6,808.1 L1001.1,808.4 L1004.5,808.8 L1007.9,809.1 L1011.4,809.4 L1014.8,809.7 L1018.3,810.0 L1021.7,810.1 L1025.2,810.3 L1028.6,810.4" fill="none" stroke="#000" stroke-width="2.8" stroke-linecap="round"/>
<line x1="808" y1="655.4" x2="811.1" y2="655.4" stroke="#000" stroke-width="2.4"/>
<line x1="808" y1="686.9" x2="813.8" y2="686.9" stroke="#000" stroke-width="2.4"/>
<line x1="808" y1="718.3" x2="811.1" y2="718.3" stroke="#000" stroke-width="2.4"/>
<line x1="808" y1="749.8" x2="813.8" y2="749.8" stroke="#000" stroke-width="2.4"/>
<line x1="808" y1="781.3" x2="811.1" y2="781.3" stroke="#000" stroke-width="2.4"/>
<line x1="848.6" y1="812.8" x2="848.6" y2="809.6999999999999" stroke="#000" stroke-width="2.4"/>
<line x1="889.2" y1="812.8" x2="889.2" y2="807.0" stroke="#000" stroke-width="2.4"/>
<line x1="929.8" y1="812.8" x2="929.8" y2="809.6999999999999" stroke="#000" stroke-width="2.4"/>
<line x1="970.4" y1="812.8" x2="970.4" y2="807.0" stroke="#000" stroke-width="2.4"/>
<line x1="1011.0" y1="812.8" x2="1011.0" y2="809.6999999999999" stroke="#000" stroke-width="2.4"/>
<rect x="808" y="623.9" width="243.6" height="188.9" fill="none" stroke="#000" stroke-width="3"/>
<text x="799.6" y="631.0" text-anchor="end" font-family="Liberation Sans, sans-serif" font-weight="bold" font-size="26.3">90</text>
<text x="799.6" y="695.1" text-anchor="end" font-family="Liberation Sans, sans-serif" font-weight="bold" font-size="26.3">60</text>
<text x="799.6" y="758.6" text-anchor="end" font-family="Liberation Sans, sans-serif" font-weight="bold" font-size="26.3">30</text>
<text x="799.6" y="821.0" text-anchor="end" font-family="Liberation Sans, sans-serif" font-weight="bold" font-size="26.3">0</text>
<text x="808.0" y="843.6" text-anchor="middle" font-family="Liberation Sans, sans-serif" font-weight="bold" font-size="25.3">0.00</text>
<text x="889.2" y="843.6" text-anchor="middle" font-family="Liberation Sans, sans-serif" font-weight="bold" font-size="25.3">0.24</text>
<text x="970.4" y="843.6" text-anchor="middle" font-family="Liberation Sans, sans-serif" font-weight="bold" font-size="25.3">0.48</text>
<text x="1051.6" y="843.6" text-anchor="middle" font-family="Liberation Sans, sans-serif" font-weight="bold" font-size="25.3">0.72</text>
<text x="929.5" y="878.9" text-anchor="middle" font-family="Liberation Sans, sans-serif" font-weight="bold" font-size="29.8">Dwell time (ms)</text>
<text transform="translate(744.5,718.1) rotate(-90)" text-anchor="middle" font-family="Liberation Sans, sans-serif" font-weight="bold" font-size="29.3">Counts</text>
<text x="956.6" y="669.9" font-family="Liberation Sans, sans-serif" font-weight="bold" font-size="28.5">3</text>
<text x="1001.8000000000001" y="669.9" font-family="Liberation Sans, sans-serif" font-weight="bold" font-size="28.5">2</text>
<path d="M974.2,662.7 L1000.2,662.7" stroke="#000" stroke-width="1.7" fill="none"/>
<path d="M1001.2,662.7 C998.2,661.7 995.2,659.7 993.7,657.5 L994.9,657.5 L996.7,662.7 L994.9,667.9 L993.7,667.9 C995.2,665.7 998.2,663.7 1001.2,662.7 Z" fill="#000"/>
<text x="721.1" y="621.1" font-family="Liberation Sans, sans-serif" font-weight="bold" font-size="31.5">g</text>
</g>
<g id="panel-h">
<defs>
<linearGradient id="gIn" x1="0" y1="0" x2="0" y2="1">
<stop offset="0" stop-color="#55a583"/><stop offset="0.12" stop-color="#66b491"/>
<stop offset="0.3" stop-color="#88cbad"/><stop offset="0.5" stop-color="#addfcc"/>
<stop offset="0.7" stop-color="#86c9aa"/><stop offset="0.88" stop-color="#5cad88"/>
<stop offset="1" stop-color="#469b73"/></linearGradient>
<linearGradient id="gOut" x1="0" y1="0" x2="0" y2="1">
<stop offset="0" stop-color="#6d9d88"/><stop offset="0.17" stop-color="#80b09b"/>
<stop offset="0.5" stop-color="#8abaa5"/><stop offset="0.83" stop-color="#7dae98"/>
<stop offset="1" stop-color="#6f9f8a"/></linearGradient>
<linearGradient id="gRim" x1="0" y1="0" x2="0" y2="1">
<stop offset="0" stop-color="#5f8f7a"/><stop offset="0.5" stop-color="#7aab95"/>
<stop offset="1" stop-color="#5f8f7a"/></linearGradient>
<linearGradient id="gHole" x1="0" y1="0" x2="1" y2="0">
<stop offset="0" stop-color="#3a7c5f"/><stop offset="0.22" stop-color="#69a58b"/>
<stop offset="0.5" stop-color="#9ccfba"/><stop offset="1" stop-color="#93c5b0"/></linearGradient>
<radialGradient id="gBall" cx="0.42" cy="0.4" r="0.65">
<stop offset="0" stop-color="#f6e06e"/><stop offset="0.5" stop-color="#e3c44b"/>
<stop offset="1" stop-color="#a58a2b"/></radialGradient>
<linearGradient id="gRod" x1="0" y1="0" x2="0" y2="1">
<stop offset="0" stop-color="#4a8cab"/><stop offset="0.22" stop-color="#84c0d9"/>
<stop offset="0.5" stop-color="#93cee3"/><stop offset="0.8" stop-color="#72b3cf"/>
<stop offset="1" stop-color="#3d7d9c"/></linearGradient>
</defs>
<text x="4.6" y="963" font-family="Liberation Sans, sans-serif" font-weight="bold" font-size="31.5">h</text>
<path d="M10.3,1129.2 L140.3,1109.2 A7.5,70.5 0 0 1 140.3,1250.2 L10.3,1229.4 A6.0,50.1 0 0 1 10.3,1129.2 Z" fill="url(#gOut)"/>
<ellipse cx="10.8" cy="1179.7" rx="6.5" ry="35.6" fill="#88c2aa"/>
<path d="M11.9,1144.0 L133.5,1130.4 L133.5,1229.0 L11.9,1215.4 A4,35.7 0 0 0 11.9,1144.0 Z" fill="url(#gIn)"/>
<ellipse cx="140.3" cy="1179.7" rx="7.5" ry="70.5" fill="url(#gRim)"/>
<ellipse cx="140.10000000000002" cy="1179.7" rx="6.9" ry="49.3" fill="url(#gHole)"/>
<path d="M140.10000000000002,1130.4 A6.9,49.3 0 0 0 140.10000000000002,1229.0" fill="none" stroke="#356f56" stroke-width="1.6" opacity="0.85"/>
<path d="M10.3,1129.2 L140.3,1109.2 A7.5,70.5 0 0 1 140.3,1250.2 L10.3,1229.4 A6.0,50.1 0 0 1 10.3,1129.2 Z" fill="none" stroke="#5d8d78" stroke-width="0.8" opacity="0.7"/>
<rect x="10.3" y="1268" width="27.6" height="28.2" rx="1.5" fill="#119552"/><text x="24.1" y="1290.7" text-anchor="middle" font-family="Liberation Sans, sans-serif" font-weight="bold" font-size="24" fill="#fff">1</text>
<text x="46.5" y="1292.3" font-family="Liberation Sans, sans-serif" font-weight="bold" font-size="26.2">PM-α-CD</text>
<rect x="350" y="1000.0" width="174.0" height="10" fill="url(#gRod)" opacity="1"/>
<circle cx="344.2" cy="1004.4" r="12" fill="url(#gBall)"/>
<path d="M524.5,956.7 L651.3,937.3 A7.5,68.9 0 0 1 651.3,1075 L524.5,1054.2 A6.0,48.8 0 0 1 524.5,956.7 Z" fill="url(#gOut)"/>
<ellipse cx="525.0" cy="1006.1" rx="6.5" ry="34.6" fill="#88c2aa"/>
<path d="M526.1,971.4 L644.5,958.0 L644.5,1054.3 L526.1,1040.9 A4,34.8 0 0 0 526.1,971.4 Z" fill="url(#gIn)"/>
<rect x="535" y="993" width="98.3" height="26.5" fill="#cdd8c4"/>
<ellipse cx="651.3" cy="1006.1" rx="7.5" ry="68.9" fill="url(#gRim)"/>
<ellipse cx="651.0999999999999" cy="1006.1" rx="6.9" ry="48.1" fill="url(#gHole)"/>
<path d="M651.0999999999999,958.0 A6.9,48.1 0 0 0 651.0999999999999,1054.3" fill="none" stroke="#356f56" stroke-width="1.6" opacity="0.85"/>
<path d="M524.5,956.7 L651.3,937.3 A7.5,68.9 0 0 1 651.3,1075 L524.5,1054.2 A6.0,48.8 0 0 1 524.5,956.7 Z" fill="none" stroke="#5d8d78" stroke-width="0.8" opacity="0.7"/>
<text x="446.7" y="1106" font-family="Liberation Sans, sans-serif" font-weight="bold" font-size="26"><tspan font-style="italic">trans</tspan>-Azo-A</text>
<text x="699" y="1012.5" text-anchor="middle" font-family="Liberation Sans, sans-serif" font-weight="bold" font-size="26.5">or</text>
<path d="M755,956.4 L881.5,937 A7.5,68.6 0 0 1 881.5,1074.2 L755,1054.1 A6.0,48.8 0 0 1 755,956.4 Z" fill="url(#gOut)"/>
<ellipse cx="755.5" cy="1005.6" rx="6.5" ry="34.7" fill="#88c2aa"/>
<path d="M756.6,970.7 L874.7,957.6 L874.7,1053.6 L756.6,1040.5 A4,34.9 0 0 0 756.6,970.7 Z" fill="url(#gIn)"/>
<rect x="768.7" y="992.5" width="98.3" height="26.7" fill="#b9dcc3" opacity="0.9"/>
<ellipse cx="881.5" cy="1005.6" rx="7.5" ry="68.6" fill="url(#gRim)"/>
<ellipse cx="881.3" cy="1005.6" rx="6.9" ry="48.0" fill="url(#gHole)"/>
<path d="M881.3,957.6 A6.9,48.0 0 0 0 881.3,1053.6" fill="none" stroke="#356f56" stroke-width="1.6" opacity="0.85"/>
<path d="M755,956.4 L881.5,937 A7.5,68.6 0 0 1 881.5,1074.2 L755,1054.1 A6.0,48.8 0 0 1 755,956.4 Z" fill="none" stroke="#5d8d78" stroke-width="0.8" opacity="0.7"/>
<rect x="874.5" y="1001.6" width="175.5" height="10" fill="url(#gRod)" opacity="1"/>
<circle cx="1057.1" cy="1006.9" r="12" fill="url(#gBall)"/>
<text x="835.5" y="1106" font-family="Liberation Sans, sans-serif" font-weight="bold" font-size="26"><tspan font-style="italic">trans</tspan>-Azo-B</text>
<rect x="685.1" y="1081.8" width="27.6" height="28.2" rx="1.5" fill="#e8097f"/><text x="698.9" y="1104.5" text-anchor="middle" font-family="Liberation Sans, sans-serif" font-weight="bold" font-size="24" fill="#fff">2</text>
<rect x="362" y="1318.55" width="30.0" height="10.5" fill="url(#gRod)" opacity="1"/>
<circle cx="355.5" cy="1323.2" r="12" fill="url(#gBall)"/>
<path d="M396.7,1274.2 L525,1254.7 A7.5,69.3 0 0 1 525,1393.3 L396.7,1372.5 A6.0,49.1 0 0 1 396.7,1274.2 Z" fill="url(#gOut)"/>
<ellipse cx="397.2" cy="1324.0" rx="6.5" ry="34.9" fill="#88c2aa"/>
<path d="M398.3,1288.9 L518.2,1275.6 L518.2,1372.4 L398.3,1359.1 A4,35.1 0 0 0 398.3,1288.9 Z" fill="url(#gIn)"/>
<rect x="393.7" y="1318.0" width="131.3" height="10.8" fill="#c4ece2" opacity="0.5"/>
<rect x="393.7" y="1321.8000000000002" width="131.3" height="3.2" fill="#d4f2ea" opacity="0.4"/>
<ellipse cx="525" cy="1324.0" rx="7.5" ry="69.3" fill="url(#gRim)"/>
<ellipse cx="524.8" cy="1324.0" rx="6.9" ry="48.4" fill="url(#gHole)"/>
<path d="M524.8,1275.6 A6.9,48.4 0 0 0 524.8,1372.4" fill="none" stroke="#356f56" stroke-width="1.6" opacity="0.85"/>
<path d="M396.7,1274.2 L525,1254.7 A7.5,69.3 0 0 1 525,1393.3 L396.7,1372.5 A6.0,49.1 0 0 1 396.7,1274.2 Z" fill="none" stroke="#5d8d78" stroke-width="0.8" opacity="0.7"/>
<rect x="517.5" y="1318.95" width="31.5" height="10.5" fill="url(#gRod)" opacity="1"/>
<rect x="547.5" y="1310.3" width="102.5" height="28.4" fill="#f081a0"/><path d="M547.5,1312.6 L548.5,1310.3 L650,1310.3 L646,1312.6 Z" fill="#e0386a"/><path d="M646,1312.6 L650,1310.3 L650,1337.2 L646,1338.7 Z" fill="#dc2454"/>
<text x="439.1" y="1433.4" font-family="Liberation Sans, sans-serif" font-weight="bold" font-size="26"><tspan font-style="italic">trans</tspan>-Alkyl-A</text>
<text x="698.5" y="1330.8" text-anchor="middle" font-family="Liberation Sans, sans-serif" font-weight="bold" font-size="26.5">or</text>
<rect x="684.9" y="1410" width="27.6" height="28.2" rx="1.5" fill="#4696d7"/><text x="698.7" y="1432.7" text-anchor="middle" font-family="Liberation Sans, sans-serif" font-weight="bold" font-size="24" fill="#fff">3</text>
<rect x="760.8" y="1308.3" width="102.2" height="28.4" fill="#e67d8c"/><path d="M760.8,1310.4 L762,1308.3 L863,1308.3 L859.3,1310.4 Z" fill="#3a1a20"/><path d="M859.3,1310.4 L863,1308.3 L863,1336.7 L859.3,1336.7 Z" fill="#0a0405"/>
<rect x="859.8" y="1318.35" width="21.2" height="10.5" fill="url(#gRod)" opacity="1"/>
<path d="M884.6,1274 L1012.9,1254.6 A7.5,69.5 0 0 1 1012.9,1393.6 L884.6,1372.4 A6.0,49.2 0 0 1 884.6,1274 Z" fill="url(#gOut)"/>
<ellipse cx="885.1" cy="1324.1" rx="6.5" ry="34.9" fill="#88c2aa"/>
<path d="M886.2,1289.0 L1006.1,1275.5 L1006.1,1372.7 L886.2,1359.2 A4,35.1 0 0 0 886.2,1289.0 Z" fill="url(#gIn)"/>
<rect x="881.6" y="1318.3999999999999" width="131.3" height="10.8" fill="#c4ece2" opacity="0.5"/>
<rect x="881.6" y="1322.2" width="131.3" height="3.2" fill="#d4f2ea" opacity="0.4"/>
<ellipse cx="1012.9" cy="1324.1" rx="7.5" ry="69.5" fill="url(#gRim)"/>
<ellipse cx="1012.6999999999999" cy="1324.1" rx="6.9" ry="48.6" fill="url(#gHole)"/>
<path d="M1012.6999999999999,1275.5 A6.9,48.6 0 0 0 1012.6999999999999,1372.7" fill="none" stroke="#356f56" stroke-width="1.6" opacity="0.85"/>
<path d="M884.6,1274 L1012.9,1254.6 A7.5,69.5 0 0 1 1012.9,1393.6 L884.6,1372.4 A6.0,49.2 0 0 1 884.6,1274 Z" fill="none" stroke="#5d8d78" stroke-width="0.8" opacity="0.7"/>
<rect x="1005.5" y="1318.35" width="40.5" height="10.5" fill="url(#gRod)" opacity="1"/>
<circle cx="1053.2" cy="1324.2" r="12" fill="url(#gBall)"/>
<text x="827.6" y="1433.3" font-family="Liberation Sans, sans-serif" font-weight="bold" font-size="26"><tspan font-style="italic">trans</tspan>-Alkyl-B</text>
<line x1="177" y1="1060.5" x2="276.6" y2="1003.2" stroke="#000" stroke-width="3.1"/><polygon points="293.0,993.8 278.5,1012.8 276.6,1003.2 269.3,996.7" fill="#000"/>
<line x1="309.5" y1="1019.5" x2="210.1" y2="1077.5" stroke="#000" stroke-width="3.1"/><polygon points="193.8,1087.0 208.1,1067.9 210.1,1077.5 217.5,1083.9" fill="#000"/>
<line x1="209.5" y1="1242" x2="309.0" y2="1298.2" stroke="#000" stroke-width="3.1"/><polygon points="325.5,1307.5 301.8,1304.7 309.0,1298.2 310.9,1288.6" fill="#000"/>
<line x1="313" y1="1337" x2="213.4" y2="1279.9" stroke="#000" stroke-width="3.1"/><polygon points="197.0,1270.5 220.7,1273.4 213.4,1279.9 211.5,1289.5" fill="#000"/>
<line x1="684.2" y1="1253.5" x2="684.2" y2="1158.3" stroke="#000" stroke-width="3.1"/><polygon points="684.2,1136.8 694.7,1161.8 684.2,1158.3 673.7,1161.8" fill="#000"/>
<line x1="716.6" y1="1136.8" x2="716.6" y2="1232.0" stroke="#000" stroke-width="3.1"/><polygon points="716.6,1253.5 706.1,1228.5 716.6,1232.0 727.1,1228.5" fill="#000"/>
<text transform="translate(162,1039.3) rotate(-30)" text-anchor="start" font-family="Liberation Sans, sans-serif" font-weight="bold" font-size="26.6"><tspan font-style="italic">k</tspan>=10035 s<tspan font-size="19.7" dy="-10.6">−1</tspan></text>
<text transform="translate(225.3,1121.8) rotate(-30)" text-anchor="start" font-family="Liberation Sans, sans-serif" font-weight="bold" font-size="26.6"><tspan font-style="italic">k</tspan>=2645 s<tspan font-size="19.7" dy="-10.6">−1</tspan></text>
<text transform="translate(232.5,1224.5) rotate(30)" text-anchor="start" font-family="Liberation Sans, sans-serif" font-weight="bold" font-size="26.6"><tspan font-style="italic">k</tspan>=9460 s<tspan font-size="19.7" dy="-10.6">−1</tspan></text>
<text transform="translate(180,1313) rotate(30)" text-anchor="start" font-family="Liberation Sans, sans-serif" font-weight="bold" font-size="26.6"><tspan font-style="italic">k</tspan>=5234 s<tspan font-size="19.7" dy="-10.6">−1</tspan></text>
<text transform="translate(524.1,1207) rotate(0)" text-anchor="start" font-family="Liberation Sans, sans-serif" font-weight="bold" font-size="26.6"><tspan font-style="italic">k</tspan>=5051 s<tspan font-size="19.7" dy="-10.6">−1</tspan></text>
<text transform="translate(746.3,1207) rotate(0)" text-anchor="start" font-family="Liberation Sans, sans-serif" font-weight="bold" font-size="26.6"><tspan font-style="italic">k</tspan>=3597 s<tspan font-size="19.7" dy="-10.6">−1</tspan></text>
</g>
</svg>
</body></html>
